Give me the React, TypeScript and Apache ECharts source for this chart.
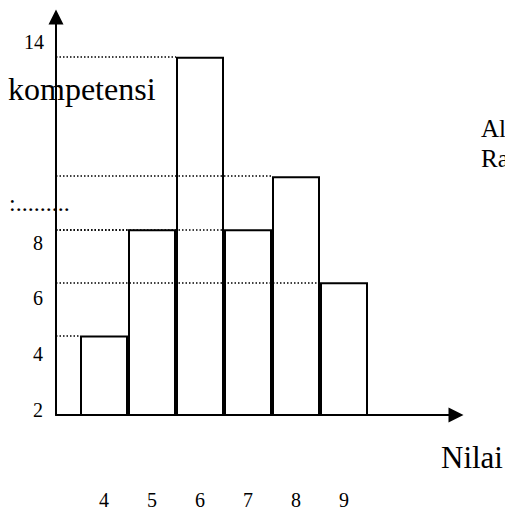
import React, { useEffect, useRef } from "react";
import * as echarts from "echarts";

// Data
const CATEGORIES = [4, 5, 6, 7, 8, 9]; // Nilai
const FREQUENCIES = [4, 8, 14.5, 8, 10, 6]; // kompetensi
const Y_TICK_LABELS = [2, 4, 6, 8];
const Y_TOP_LABEL = "14";
const X_TITLE = "Nilai";
const Y_TITLE = "kompetensi";
const SIDE_TEXTS = ["Al", "Ra"];
const LEFT_MARK = ":.........";

const FONT = "Liberation Serif";

export default function App() {
  const ref = useRef<HTMLDivElement>(null);

  useEffect(() => {
    if (!ref.current) return;
    const chart = echarts.init(ref.current, null, { renderer: "svg" });

    const xMin = 3;
    const xMax = 3 + 400 / 48;

    // guide lines from the y axis to the left edge of each bar
    const guideLines = CATEGORIES.map((c, i) => [
      { coord: [xMin, FREQUENCIES[i]] },
      { coord: [c - 0.5, FREQUENCIES[i]] },
    ]);

    const textStyle = { fontFamily: FONT, color: "#000" };

    chart.setOption({
      animation: false,
      backgroundColor: "#fff",
      grid: { left: 56, right: 49, top: 17, bottom: 94 },
      xAxis: {
        type: "value",
        min: xMin,
        max: xMax,
        interval: 1,
        axisLine: {
          show: true,
          onZero: false,
          symbol: ["none", "triangle"],
          symbolSize: [15, 15],
          lineStyle: { color: "#000", width: 2 },
        },
        axisTick: { show: false },
        splitLine: { show: false },
        axisLabel: {
          ...textStyle,
          fontSize: 20,
          margin: 85,
          verticalAlign: "middle",
          formatter: (v: number) => (CATEGORIES.includes(v) ? String(v) : ""),
        },
      },
      yAxis: [
        {
          type: "value",
          min: 1,
          max: 16,
          axisLine: {
            show: true,
            onZero: false,
            symbol: ["none", "triangle"],
            symbolSize: [15, 15],
            lineStyle: { color: "#000", width: 2 },
          },
          axisTick: { show: false },
          axisLabel: { show: false },
          splitLine: { show: false },
        },
        {
          type: "value",
          position: "left",
          offset: 12,
          min: 1.806,
          max: 16.11,
          axisLine: { show: false },
          axisTick: { show: false },
          splitLine: { show: false },
          axisLabel: {
            ...textStyle,
            fontSize: 20,
            margin: 1,
            customValues: Y_TICK_LABELS,
          },
          name: Y_TOP_LABEL,
          nameLocation: "end",
          nameGap: -24.6,
          nameTextStyle: {
            ...textStyle,
            fontSize: 20,
            align: "right",
            verticalAlign: "middle",
          },
        },
      ],
      series: [
        {
          type: "bar",
          xAxisIndex: 0,
          yAxisIndex: 0,
          barWidth: 48,
          data: CATEGORIES.map((c, i) => [c, FREQUENCIES[i]]),
          itemStyle: {
            color: "rgba(0,0,0,0)",
            borderColor: "#000",
            borderWidth: 2,
          },
          markLine: {
            silent: true,
            symbol: ["none", "none"],
            label: { show: false },
            lineStyle: { color: "#000", width: 1.5, type: [1.5, 2] },
            data: guideLines,
          },
        },
      ],
      graphic: [
        {
          type: "text",
          style: { text: Y_TITLE, x: 8, y: 89.2, font: `32px "${FONT}"`, fill: "#000", verticalAlign: "middle" },
        },
        {
          type: "text",
          style: { text: X_TITLE, x: 441, y: 457.5, font: `31px "${FONT}"`, fill: "#000", verticalAlign: "middle" },
        },
        {
          type: "text",
          style: { text: SIDE_TEXTS[0], x: 481, y: 128.6, font: `25px "${FONT}"`, fill: "#000", verticalAlign: "middle" },
        },
        {
          type: "text",
          style: { text: SIDE_TEXTS[1], x: 481, y: 158.3, font: `25px "${FONT}"`, fill: "#000", verticalAlign: "middle" },
        },
        {
          type: "text",
          style: { text: LEFT_MARK, x: 9, y: 202.9, font: `24px "${FONT}"`, fill: "#000", verticalAlign: "middle" },
        },
      ],
    });

    return () => chart.dispose();
  }, []);

  return (
    <div
      ref={ref}
      style={{ position: "fixed", left: 0, top: 0, width: 505, height: 510, background: "#fff" }}
    />
  );
}
